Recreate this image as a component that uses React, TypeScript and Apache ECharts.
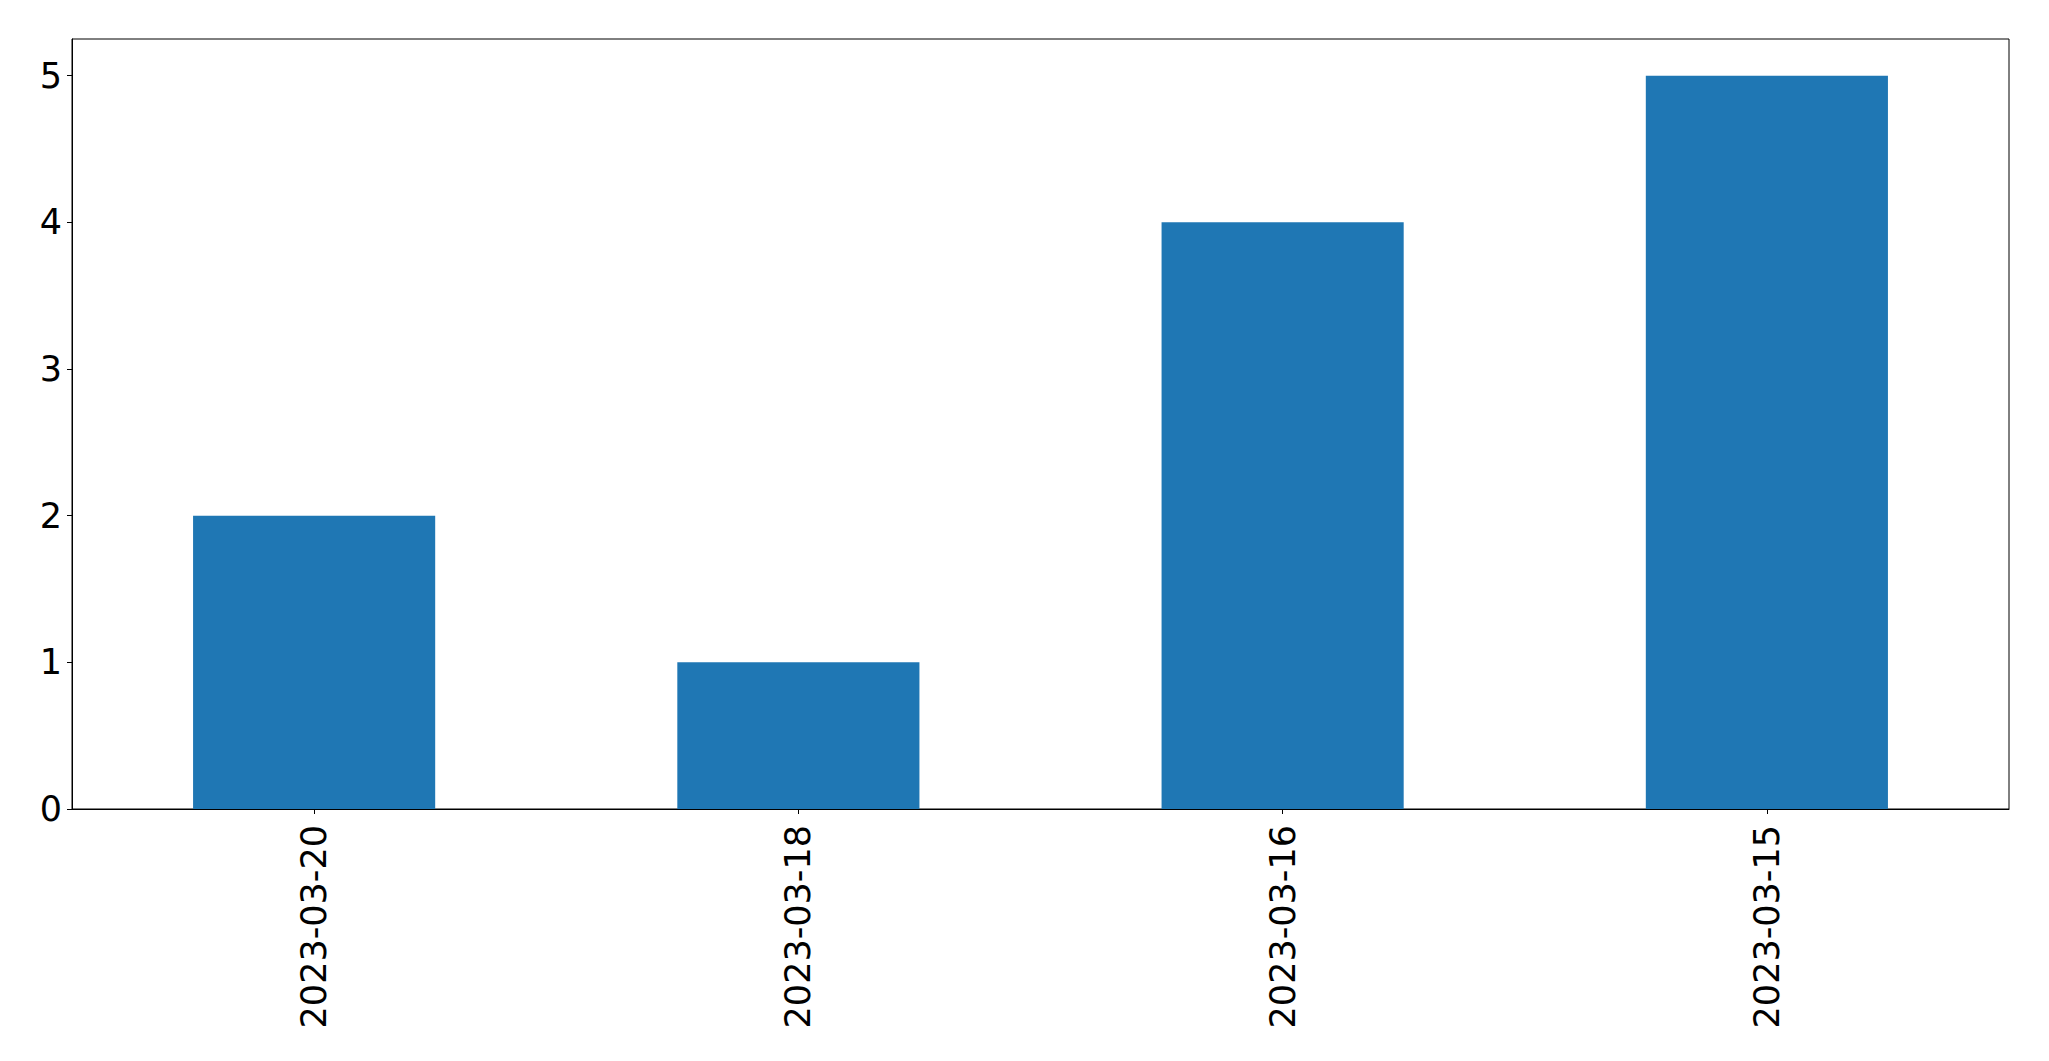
import React, { useEffect, useRef } from "react";
import * as echarts from "echarts";

const categories = ["2023-03-20", "2023-03-18", "2023-03-16", "2023-03-15"];
const values = [2, 1, 4, 5];
const yTicks = [0, 1, 2, 3, 4, 5];
const yMax = 5.25;

export default function App() {
  const ref = useRef<HTMLDivElement>(null);
  useEffect(() => {
    if (!ref.current) return;
    const chart = echarts.init(ref.current, null, { renderer: "svg" });
    const font = "DejaVu Sans";
    chart.setOption({
      animation: false,
      backgroundColor: "#ffffff",
      grid: {
        left: 72,
        top: 39,
        width: 1937,
        height: 770,
        show: true,
        borderColor: "#000000",
        borderWidth: 1,
        backgroundColor: "transparent",
        containLabel: false,
      },
      xAxis: {
        type: "category",
        data: categories,
        boundaryGap: true,
        axisLine: { show: true, lineStyle: { color: "#000000", width: 1 } },
        axisTick: { show: true, alignWithLabel: true, length: 5, lineStyle: { color: "#000000", width: 1 } },
        axisLabel: {
          rotate: 90,
          margin: 16,
          color: "#000000",
          fontSize: 35,
          fontFamily: font,
          interval: 0,
        },
        splitLine: { show: false },
      },
      yAxis: {
        type: "value",
        min: 0,
        max: yMax,
        interval: 1,
        axisLine: { show: true, lineStyle: { color: "#000000", width: 1 } },
        axisTick: { show: true, length: 5, customValues: yTicks, lineStyle: { color: "#000000", width: 1 } },
        axisLabel: {
          customValues: yTicks,
          margin: 10,
          color: "#000000",
          fontSize: 35,
          fontFamily: font,
        },
        splitLine: { show: false },
      },
      series: [
        {
          type: "bar",
          data: values,
          barWidth: "50%",
          itemStyle: { color: "#1f77b4" },
        },
      ],
    });
    return () => chart.dispose();
  }, []);
  return (
    <div
      ref={ref}
      style={{ position: "absolute", left: 0, top: 0, width: 2049, height: 1061 }}
    />
  );
}
